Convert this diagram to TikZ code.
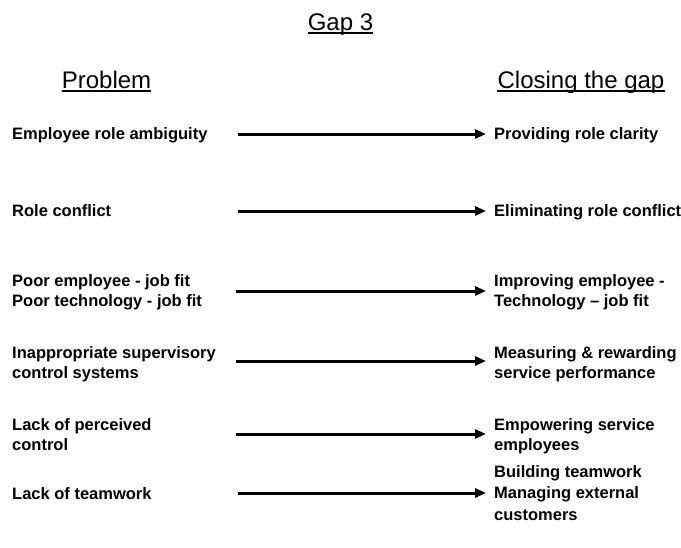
\documentclass[tikz,border=0pt]{standalone}
\usepackage{fontspec}
\setmainfont{Liberation Sans}
\usetikzlibrary{arrows.meta}
\begin{document}
\begin{tikzpicture}[x=1pt,y=-1pt,
 body/.style={font=\bfseries\fontsize{16.5}{20}\selectfont, inner sep=0pt, anchor=base west, align=left},
 head/.style={font=\fontsize{24}{28}\selectfont, inner sep=0pt, anchor=base},
 uline/.style={line width=2pt},
 conn/.style={line width=3pt, -{Triangle[length=11pt,width=9pt]}}]
\useasboundingbox (0,0) rectangle (681,547);
% headings
\node[head] (gap) at (340.5,30) {Gap 3};
\draw[uline] ([yshift=-2.5pt]gap.base west) -- ([yshift=-2.5pt]gap.base east);
\node[head] (prob) at (106.5,88) {Problem};
\draw[uline] ([yshift=-2.5pt]prob.base west) -- ([yshift=-2.5pt]prob.base east);
\node[head] (close) at (581,88) {Closing the gap};
\draw[uline] ([yshift=-2.5pt]close.base west) -- ([yshift=-2.5pt]close.base east);
% left column (base = baseline of the last line)
\node[body] (l1) at (12,139) {Employee role ambiguity};
\node[body] (l2) at (12,216) {Role conflict};
\node[body] (l3) at (12,306) {Poor employee - job fit\\Poor technology - job fit};
\node[body] (l4) at (12,378) {Inappropriate supervisory\\control systems};
\node[body] (l5) at (12,450) {Lack of perceived\\control};
\node[body] (l6) at (12,499) {Lack of teamwork};
% right column
\node[body] (r1) at (494,139) {Providing role clarity};
\node[body] (r2) at (494,216) {Eliminating role conflict};
\node[body] (r3) at (494,306) {Improving employee -\\Technology -- job fit};
\node[body] (r4) at (494,378) {Measuring \& rewarding\\service performance};
\node[body] (r5) at (494,450) {Empowering service\\employees};
\node[body, font=\bfseries\fontsize{16.5}{21.5}\selectfont] (r6) at (494,520) {Building teamwork\\Managing external\\customers};
% arrows
\coordinate (s1) at (238,134); \coordinate (e1) at (486,134);
\coordinate (s2) at (238,211); \coordinate (e2) at (486,211);
\coordinate (s3) at (236,291); \coordinate (e3) at (486,291);
\coordinate (s4) at (236,361); \coordinate (e4) at (486,361);
\coordinate (s5) at (236,434); \coordinate (e5) at (486,434);
\coordinate (s6) at (238,493); \coordinate (e6) at (486,493);
\foreach \i in {1,...,6} \draw[conn] (s\i) -- (e\i);
\end{tikzpicture}
\end{document}
